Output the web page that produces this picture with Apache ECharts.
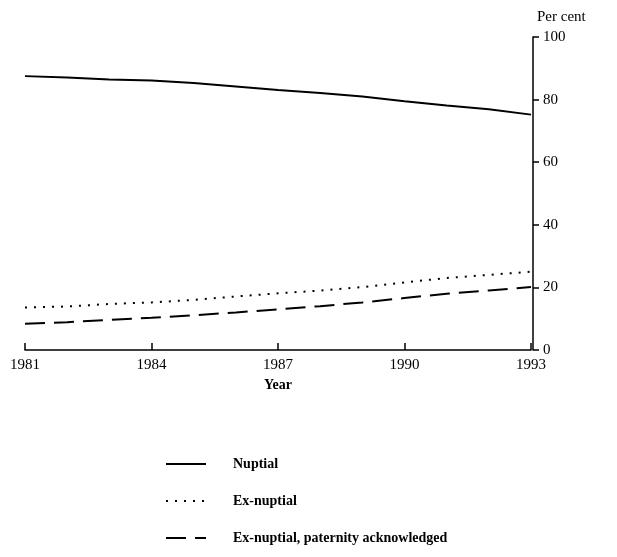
<!DOCTYPE html>
<html>
<head>
<meta charset="utf-8">
<script src="https://cdn.jsdelivr.net/npm/echarts@6/dist/echarts.min.js"></script>
<style>html,body{margin:0;padding:0;background:#fff;}#c{width:617px;height:557px;}</style>
</head>
<body>
<div id="c"></div>
<script>
var years = ['1981','1982','1983','1984','1985','1986','1987','1988','1989','1990','1991','1992','1993'];
var nuptial = [87.5, 87.1, 86.4, 86.1, 85.3, 84.2, 83.1, 82.1, 81.0, 79.5, 78.1, 76.9, 75.2];
var exNuptial = [13.6, 13.9, 14.7, 15.2, 16.0, 17.1, 18.1, 19.0, 20.1, 21.6, 23.0, 24.0, 25.0];
var paternity = [8.4, 8.9, 9.6, 10.3, 11.1, 12.0, 13.0, 14.0, 15.2, 16.6, 18.0, 19.0, 20.1];
var yTicks = [0, 20, 40, 60, 80, 100];

var serif = 'Liberation Serif';
var chart = echarts.init(document.getElementById('c'));
chart.setOption({
  animation: false,
  backgroundColor: '#fff',
  grid: {left: 25, right: 86, top: 37, bottom: 207, containLabel: false},
  xAxis: {
    type: 'category',
    data: years,
    boundaryGap: false,
    name: 'Year',
    nameLocation: 'middle',
    nameGap: 28,
    nameTextStyle: {fontFamily: serif, fontSize: 14, fontWeight: 'bold', color: '#000'},
    axisLine: {lineStyle: {color: '#000', width: 1.5}},
    axisTick: {inside: true, length: 7, interval: 2, lineStyle: {color: '#000', width: 1.5}},
    axisLabel: {interval: 2, fontFamily: serif, fontSize: 15, color: '#000', margin: 8},
    splitLine: {show: false}
  },
  yAxis: {
    type: 'value',
    position: 'right',
    offset: 2,
    min: yTicks[0],
    max: yTicks[yTicks.length - 1],
    interval: 20,
    name: 'Per cent',
    nameLocation: 'end',
    nameGap: 12,
    nameTextStyle: {fontFamily: serif, fontSize: 15, color: '#000', align: 'left', padding: [0, 0, 0, 4]},
    axisLine: {show: true, lineStyle: {color: '#000', width: 1.5}},
    axisTick: {show: true, inside: false, length: 6, lineStyle: {color: '#000', width: 1.5}},
    axisLabel: {fontFamily: serif, fontSize: 15, color: '#000', margin: 10},
    splitLine: {show: false}
  },
  legend: {
    orient: 'vertical',
    left: 160,
    top: 452,
    itemWidth: 40,
    itemHeight: 14,
    itemGap: 23,
    itemStyle: {opacity: 0},
    textStyle: {fontFamily: serif, fontSize: 14, fontWeight: 'bold', color: '#000', padding: [0, 0, 0, 22]},
    data: ['Nuptial', 'Ex-nuptial', 'Ex-nuptial, paternity acknowledged']
  },
  series: [
    {name: 'Nuptial', type: 'line', data: nuptial, symbol: 'none', smooth: false,
     lineStyle: {color: '#000', width: 2, type: 'solid'}, itemStyle: {color: '#000'}},
    {name: 'Ex-nuptial', type: 'line', data: exNuptial, symbol: 'none',
     lineStyle: {color: '#000', width: 2, type: [2, 7]}, itemStyle: {color: '#000'}},
    {name: 'Ex-nuptial, paternity acknowledged', type: 'line', data: paternity, symbol: 'none',
     lineStyle: {color: '#000', width: 2, type: [20, 9]}, itemStyle: {color: '#000'}}
  ]
});
</script>
</body>
</html>
